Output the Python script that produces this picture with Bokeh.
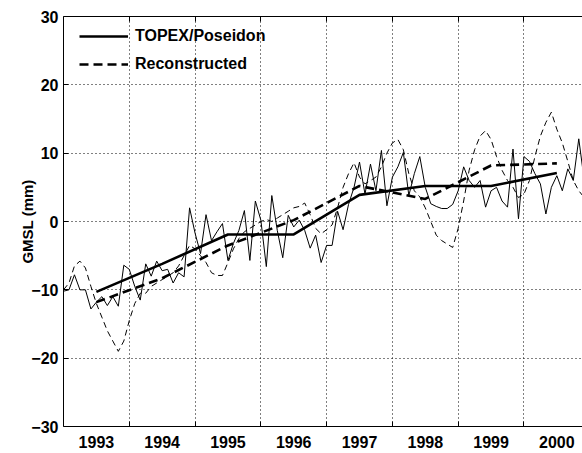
from bokeh.plotting import figure
from bokeh.models import Range1d, FixedTicker, LinearAxis, Legend, LegendItem
from bokeh.embed import file_html
from bokeh.resources import INLINE

# ---------------- data ----------------
year_label_pos = [1993.5, 1994.5, 1995.5, 1996.5, 1997.5, 1998.5, 1999.5, 2000.5]
year_labels = ["1993", "1994", "1995", "1996", "1997", "1998", "1999", "2000"]
year_bounds = [1994, 1995, 1996, 1997, 1998, 1999, 2000]
y_ticks = [-30, -20, -10, 0, 10, 20, 30]

# monthly sample times (decimal years)
month_times = [1993.0 + i / 12.0 for i in range(96)]

topex_monthly = [
    -10.2, -10.0, -7.8, -10.0, -10.0, -12.8, -11.8, -11.0, -12.3, -11.0, -12.4, -6.4,
    -7.0, -9.5, -11.5, -6.2, -8.0, -5.8, -7.2, -7.0, -9.0, -7.5, -8.1, 2.0,
    -1.7, -4.7, 1.0, -2.8, -1.5, -0.3, -5.7, -3.2, -1.3, 1.6, -5.7, 3.0,
    0.2, -6.6, 3.8, -1.3, -5.3, 0.9, -0.8, 0.2, -1.3, -3.9, -2.0, -6.0,
    -3.5, -3.5, 1.5, -1.2, 2.5, 5.0, 8.7, 4.0, 8.4, 4.5, 10.4, 2.3,
    6.5, 8.0, 10.1, 3.8, 7.0, 9.5, 5.0, 2.6, 2.2, 1.9, 1.9, 2.5,
    4.5, 8.0, 6.0, 5.0, 6.0, 2.1, 4.5, 5.0, 3.0, 2.1, 10.6, 0.4,
    9.5, 8.8, 7.0, 5.5, 1.1, 5.0, 6.7, 4.5, 7.7, 6.0, 12.1, 6.0,
]

recon_monthly = [
    -10.0, -9.0, -6.5, -5.8, -6.8, -9.5, -12.0, -14.0, -16.0, -17.5, -19.0, -17.5,
    -14.5, -12.0, -10.5, -10.5, -9.5, -9.0, -8.5, -8.0, -7.5, -6.5, -5.0, -3.5,
    -4.0, -5.0, -6.0, -7.5, -7.9, -7.9, -6.0, -4.0, -2.5, -1.5, -1.0, -0.5,
    0.0, 0.3, 0.0, 0.5, 1.0, 1.5, 2.0, 2.2, 2.7, 1.0, -1.0, -1.8,
    -1.2, -0.5, 2.0, 5.0, 7.0, 8.6, 6.5, 5.5, 6.0, 6.5, 8.0, 10.0,
    11.5, 12.0, 10.5, 7.0, 4.5, 3.6, 2.0, 0.0, -2.0, -2.8, -3.3, -3.8,
    -1.0, 3.0, 7.5, 10.5, 12.5, 13.3, 12.0, 9.5, 7.5, 6.0, 5.0, 3.5,
    4.0, 6.0, 9.5, 12.5, 14.5, 16.0, 13.5, 11.5, 8.8, 6.0, 4.5, 3.5,
]

annual_times = [1993.5, 1994.5, 1995.5, 1996.5, 1997.5, 1998.5, 1999.5, 2000.5]
topex_annual = [-10.3, -6.2, -1.9, -1.9, 3.9, 5.2, 5.2, 7.1]
recon_annual = [-11.8, -8.3, -3.5, 0.2, 5.2, 3.3, 8.2, 8.5]

# ---------------- figure ----------------
FONT = "Liberation Sans"

p = figure(
    width=582, height=453,
    output_backend="svg", toolbar_location=None,
    x_range=Range1d(1993.0, 2000.89), y_range=Range1d(-30, 30),
    min_border_left=63, min_border_right=0, min_border_top=16, min_border_bottom=27,
    x_axis_location=None, y_axis_location=None,
)
p.outline_line_color = None
p.background_fill_color = "white"
p.border_fill_color = "white"

# axes
xaxis = LinearAxis(ticker=FixedTicker(ticks=year_label_pos, minor_ticks=year_bounds))
xaxis.major_label_overrides = {t: lab for t, lab in zip(year_label_pos, year_labels)}
xaxis.major_tick_line_color = None
xaxis.minor_tick_in = 5
xaxis.minor_tick_out = 0
xaxis.minor_tick_line_color = "black"
xaxis.major_label_text_font = FONT
xaxis.major_label_text_font_style = "bold"
xaxis.major_label_text_font_size = "16px"
xaxis.major_label_text_color = "black"
xaxis.major_label_standoff = 3
xaxis.axis_line_color = "black"
p.add_layout(xaxis, "below")

topaxis = LinearAxis(ticker=FixedTicker(ticks=year_label_pos, minor_ticks=year_bounds))
topaxis.major_label_overrides = {t: "" for t in year_label_pos}
topaxis.major_tick_line_color = None
topaxis.minor_tick_in = 5
topaxis.minor_tick_out = 0
topaxis.major_label_text_font_size = "8px"
topaxis.major_label_standoff = 0
topaxis.axis_line_color = "black"
p.add_layout(topaxis, "above")

yaxis = LinearAxis(ticker=FixedTicker(ticks=y_ticks, minor_ticks=[]))
yaxis.major_tick_in = 5
yaxis.major_tick_out = 0
yaxis.minor_tick_line_color = None
yaxis.major_label_text_font = FONT
yaxis.major_label_text_font_style = "bold"
yaxis.major_label_text_font_size = "16px"
yaxis.major_label_text_color = "black"
yaxis.major_label_standoff = 5
yaxis.axis_label = "GMSL (mm)"
yaxis.axis_label_text_font = FONT
yaxis.axis_label_text_font_style = "bold"
yaxis.axis_label_text_font_size = "15px"
yaxis.axis_label_text_color = "black"
yaxis.axis_label_standoff = -8
yaxis.axis_line_color = "black"
p.add_layout(yaxis, "left")

# grids
p.xgrid.ticker = FixedTicker(ticks=year_bounds)
p.ygrid.ticker = FixedTicker(ticks=[-20, -10, 0, 10, 20])
for g in (p.xgrid, p.ygrid):
    g.grid_line_color = "black"
    g.grid_line_dash = "1 3"
    g.grid_line_width = 1

# thin monthly series
p.line(month_times, topex_monthly, line_color="black", line_width=1)
p.line(month_times, recon_monthly, line_color="black", line_width=1, line_dash="6 4")

# thick annual series
r_topex = p.line(annual_times, topex_annual, line_color="black", line_width=2.6)
r_recon = p.line(annual_times, recon_annual, line_color="black", line_width=2.6, line_dash="9 5")

legend = Legend(
    items=[LegendItem(label="TOPEX/Poseidon", renderers=[r_topex]),
           LegendItem(label="Reconstructed", renderers=[r_recon])],
    location=(16, 352),
    orientation="vertical",
    background_fill_alpha=0, border_line_color=None,
    label_text_font=FONT, label_text_font_style="bold", label_text_font_size="16px",
    label_text_color="black",
    glyph_width=49, glyph_height=20, label_height=20, spacing=8,
    padding=0, margin=0, label_standoff=7,
)
p.add_layout(legend)

open("out.html", "w").write(file_html(p, INLINE))
